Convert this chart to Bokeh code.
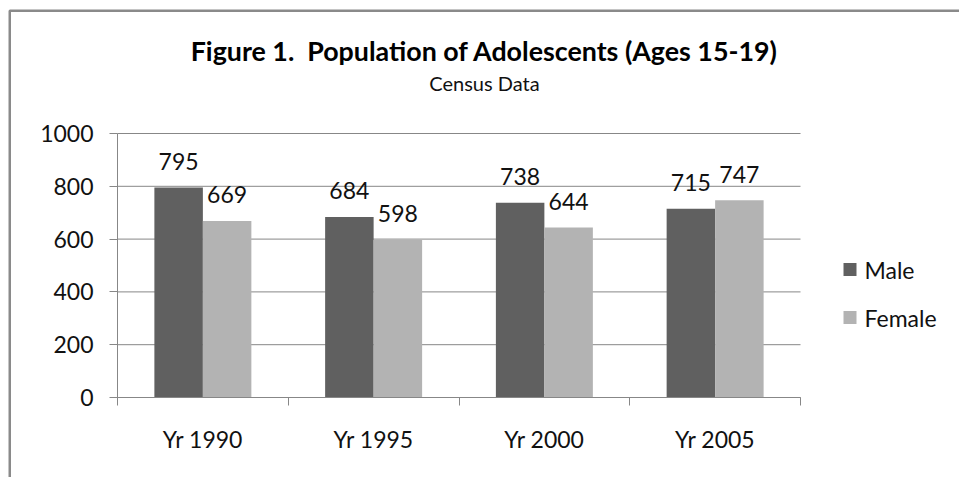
from bokeh.plotting import figure
from bokeh.models import (Range1d, FixedTicker, Label, LabelSet, ColumnDataSource,
                          BoxAnnotation)
from bokeh.core.properties import value
from bokeh.transform import dodge
from bokeh.embed import file_html
from bokeh.resources import INLINE

# ---- data ----
title_text = "Figure 1.\u00a0 Population of Adolescents (Ages 15-19)"
subtitle_text = "Census Data"
years = ["Yr 1990", "Yr 1995", "Yr 2000", "Yr 2005"]
male = [795, 684, 738, 715]
female = [669, 598, 644, 747]
y_ticks = [0, 200, 400, 600, 800, 1000]
series_names = ["Male", "Female"]
series_colors = ["#606060", "#b3b3b3"]

FONT = "Lato"
TXT = "#111111"
GRID = "#878787"

# ---- layout (pixels) ----
W, H = 959, 477
PL, PR, PT, PB = 117, 800, 133, 397      # plot-area box inside the canvas
n = len(years)
xs = (PR - PL) / n
ys = (PB - PT) / (y_ticks[-1] - y_ticks[0])
x_range = Range1d(-PL / xs, n + (W - PR) / xs)
y_range = Range1d(y_ticks[0] - (H - PB) / ys, y_ticks[-1] + PT / ys)

centers = [i + 0.5 for i in range(n)]
src = ColumnDataSource(dict(
    x=centers, male=male, female=female,
    ml=[str(v) for v in male], fl=[str(v) for v in female],
))

p = figure(width=W, height=H, output_backend="svg", toolbar_location=None,
           x_range=x_range, y_range=y_range,
           min_border_left=0, min_border_right=0, min_border_top=0,
           min_border_bottom=0)
p.outline_line_color = None
p.background_fill_color = "white"
p.border_fill_color = "white"
p.xgrid.visible = False
p.ygrid.visible = False

# horizontal gridlines across the plot area
p.segment(x0=0, x1=n, y0=y_ticks, y1=y_ticks, line_color=GRID, line_width=1)

off = 0.142
bw = 0.284
p.vbar(x=dodge("x", -off), top="male", width=bw, source=src,
       fill_color=series_colors[0], line_color=None)
p.vbar(x=dodge("x", off), top="female", width=bw, source=src,
       fill_color=series_colors[1], line_color=None)

for col, lab, o in (("male", "ml", -off), ("female", "fl", off)):
    p.add_layout(LabelSet(x=dodge("x", o), y=col, text=lab, source=src,
                          text_align="center", text_baseline="middle",
                          y_offset=26, text_font=value(FONT),
                          text_font_size=value("23px"), text_color=TXT))

# axes, pinned to the plot-area box
xa = p.xaxis[0]
xa.fixed_location = y_ticks[0]
xa.bounds = (0, n)
xa.ticker = FixedTicker(ticks=centers, minor_ticks=list(range(n + 1)))
xa.major_label_overrides = {c: y for c, y in zip(centers, years)}
xa.major_tick_line_color = None
xa.major_tick_out = 0
xa.major_tick_in = 0
xa.minor_tick_line_color = GRID
xa.minor_tick_out = 8
xa.minor_tick_in = 0
xa.axis_line_color = GRID
xa.major_label_standoff = 19
xa.major_label_text_font = FONT
xa.major_label_text_font_size = "23px"
xa.major_label_text_color = TXT

ya = p.yaxis[0]
ya.fixed_location = 0
ya.bounds = (y_ticks[0], y_ticks[-1])
ya.ticker = FixedTicker(ticks=y_ticks, minor_ticks=[])
ya.major_tick_line_color = GRID
ya.major_tick_out = 8
ya.major_tick_in = 0
ya.axis_line_color = GRID
ya.major_label_standoff = 16
ya.major_label_text_font = FONT
ya.major_label_text_font_size = "23px"
ya.major_label_text_color = TXT

# titles
p.add_layout(Label(x=484, y=50, x_units="canvas", y_units="canvas", text=title_text,
                   text_align="center", text_baseline="middle", text_font=FONT,
                   text_font_style="bold", text_font_size="26.8px", text_color="#000000"))
p.add_layout(Label(x=484, y=82, x_units="canvas", y_units="canvas", text=subtitle_text,
                   text_align="center", text_baseline="middle", text_font=FONT,
                   text_font_size="20px", text_color=TXT))

# legend (manual)
for i, (name, colr) in enumerate(zip(series_names, series_colors)):
    cy = 269 + 48 * i
    p.add_layout(BoxAnnotation(left=843, right=856, top=cy - 6.5, bottom=cy + 6.5,
                               left_units="canvas", right_units="canvas",
                               top_units="canvas", bottom_units="canvas",
                               fill_color=colr, fill_alpha=1, line_color=None))
    p.add_layout(Label(x=864, y=cy, x_units="canvas", y_units="canvas", text=name,
                       text_align="left", text_baseline="middle", text_font=FONT,
                       text_font_size="23px", text_color=TXT))

# outer chart border (extends past right/bottom edges)
p.add_layout(BoxAnnotation(left=9.25, right=3000, top=10.25, bottom=3000,
                           left_units="canvas", right_units="canvas",
                           top_units="canvas", bottom_units="canvas",
                           fill_alpha=0, line_color="#8a8a8a", line_alpha=1,
                           line_width=2.5))

open("out.html", "w").write(file_html(p, INLINE))
